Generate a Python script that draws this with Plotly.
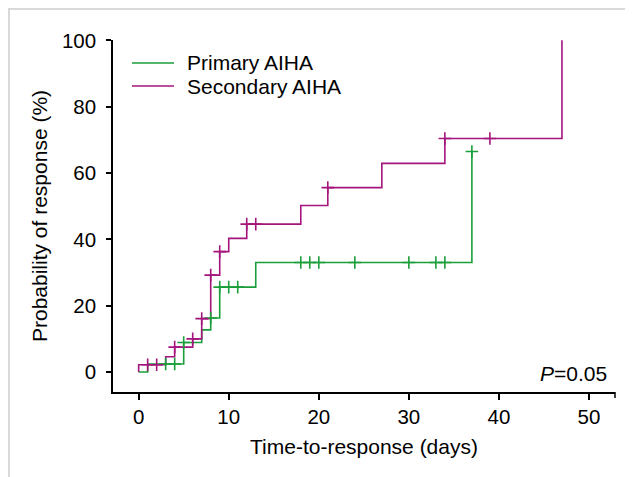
import plotly.graph_objects as go

# ---- data ----
primary_time = [0, 1, 5, 7, 8, 9, 13, 37]
primary_resp = [0, 2.4, 8.9, 12.7, 16.3, 25.6, 33.0, 66.5]
primary_censor = [3, 4, 5, 8, 9, 10, 11, 18, 19, 20, 24, 30, 33, 34, 37]

secondary_time = [0, 0, 3, 4, 6, 7, 8, 9, 10, 12, 18, 21, 27, 34, 47]
secondary_resp = [0, 2.2, 4.6, 7.5, 10.0, 16.1, 29.2, 36.3, 40.3, 44.6, 50.2, 55.6, 62.9, 70.4, 100]
secondary_censor = [1, 2, 4, 6, 7, 8, 9, 12, 13, 21, 34, 39]

x_ticks = [0, 10, 20, 30, 40, 50]
y_ticks = [0, 20, 40, 60, 80, 100]

GREEN = "#1a9e3a"
MAGENTA = "#a4157c"
FONT = "Liberation Sans, Arial, Helvetica, sans-serif"


def step_value(times, vals, t):
    v = vals[0]
    for ti, vi in zip(times, vals):
        if ti <= t:
            v = vi
    return v


fig = go.Figure()

fig.add_trace(go.Scatter(x=primary_time, y=primary_resp, mode="lines",
                         line=dict(color=GREEN, width=1.6, shape="hv"),
                         name="Primary AIHA", showlegend=False))
fig.add_trace(go.Scatter(x=secondary_time, y=secondary_resp, mode="lines",
                         line=dict(color=MAGENTA, width=1.6, shape="hv"),
                         name="Secondary AIHA", showlegend=False))
fig.add_trace(go.Scatter(x=primary_censor,
                         y=[step_value(primary_time, primary_resp, t) for t in primary_censor],
                         mode="markers", showlegend=False,
                         marker=dict(symbol="cross-thin", size=9, color=GREEN,
                                     line=dict(color=GREEN, width=1.6))))
fig.add_trace(go.Scatter(x=secondary_censor,
                         y=[step_value(secondary_time, secondary_resp, t) for t in secondary_censor],
                         mode="markers", showlegend=False,
                         marker=dict(symbol="cross-thin", size=9, color=MAGENTA,
                                     line=dict(color=MAGENTA, width=1.6))))

# page offset of the figure inside the browser window (body margin)
OFF = 8
W, H = 633, 477
L, R, T, B = 105, 26, 32, 93
pw, ph = W - L - R, H - T - B


def px(screen_x):
    return (screen_x - OFF - L) / pw


def py(screen_y):
    return (H - B - (screen_y - OFF)) / ph


shapes = [
    # light grey page frame
    dict(type="rect", xref="paper", yref="paper", x0=px(9), x1=1.3, y0=-1, y1=py(9),
         line=dict(color="#d9d9d9", width=2), fillcolor="rgba(0,0,0,0)", layer="below"),
    # end tick of x axis
    dict(type="line", xref="paper", yref="paper", x0=1, x1=1, y0=0, y1=-6 / ph,
         line=dict(color="black", width=1.5)),
    # legend lines
    dict(type="line", xref="paper", yref="paper", x0=px(132), x1=px(174), y0=py(63), y1=py(63),
         line=dict(color=GREEN, width=1.6)),
    dict(type="line", xref="paper", yref="paper", x0=px(132), x1=px(174), y0=py(86), y1=py(86),
         line=dict(color=MAGENTA, width=1.6)),
]

annotations = [
    dict(text="Primary AIHA", xref="paper", yref="paper", x=px(185), y=py(63),
         xanchor="left", yanchor="middle", showarrow=False, font=dict(size=21, color="black")),
    dict(text="Secondary AIHA", xref="paper", yref="paper", x=px(185), y=py(86),
         xanchor="left", yanchor="middle", showarrow=False, font=dict(size=21, color="black")),
    dict(text="<i>P</i>=0.05", xref="paper", yref="paper", x=px(609), y=py(373),
         xanchor="right", yanchor="middle", showarrow=False, font=dict(size=21, color="black")),
]

fig.update_layout(
    width=W, height=H,
    margin=dict(l=L, r=R, t=T, b=B),
    paper_bgcolor="white", plot_bgcolor="white",
    font=dict(family=FONT, size=20.5, color="black"),
    showlegend=False,
    shapes=shapes, annotations=annotations,
    xaxis=dict(range=[-2.85, 52.89], tickvals=x_ticks, ticks="outside", ticklen=6,
               tickwidth=1.5, tickcolor="black", showline=True, linecolor="black",
               linewidth=1.5, showgrid=False, zeroline=False,
               title=dict(text="Time-to-response (days)", standoff=12, font=dict(size=21))),
    yaxis=dict(range=[-6.03, 100.1], tickvals=y_ticks, ticks="outside", ticklen=5,
               tickwidth=1.5, tickcolor="black", showline=True, linecolor="black",
               linewidth=1.5, showgrid=False, zeroline=False, ticklabelstandoff=6,
               title=dict(text="Probability of response (%)", standoff=9, font=dict(size=21))),
)

fig.write_html("out.html")
